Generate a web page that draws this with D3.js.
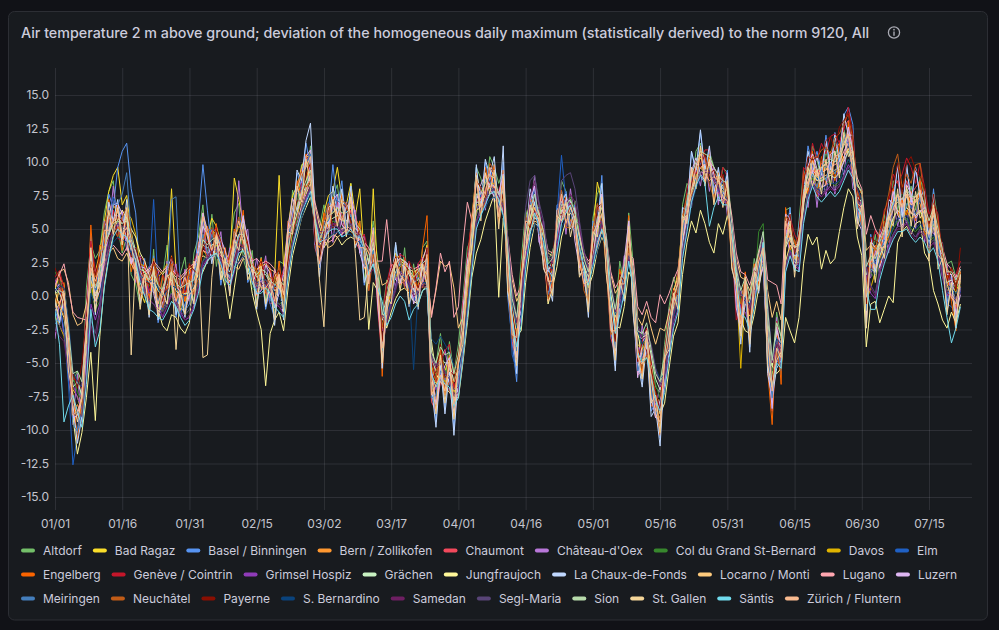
<!DOCTYPE html>
<html>
<head>
<meta charset="utf-8">
<script src="https://cdn.jsdelivr.net/npm/d3@7"></script>
<style>
  html, body { margin: 0; padding: 0; background: #111217; }
  svg { display: block; font-family: Inter, "Noto Sans", sans-serif; }
</style>
</head>
<body>
<div id="chart"></div>
<script>
// stations in legend order
const stations = ["Altdorf", "Bad Ragaz", "Basel / Binningen", "Bern / Zollikofen", "Chaumont", "Château-d'Oex",
  "Col du Grand St-Bernard", "Davos", "Elm", "Engelberg", "Genève / Cointrin", "Grimsel Hospiz", "Grächen",
  "Jungfraujoch", "La Chaux-de-Fonds", "Locarno / Monti", "Lugano", "Luzern", "Meiringen", "Neuchâtel",
  "Payerne", "S. Bernardino", "Samedan", "Segl-Maria", "Sion", "St. Gallen", "Säntis", "Zürich / Fluntern"];
const colors = ["#73BF69", "#FADE2A", "#5794F2", "#FF9830", "#F2495C", "#B877D9", "#37872D", "#E0B400",
  "#1F60C4", "#FA6400", "#C4162A", "#8F3BB8", "#C8F2C2", "#FFF899", "#C0D8FF", "#FFCB7D", "#FFA6B0",
  "#DEB6F2", "#447EBC", "#C15C17", "#890F02", "#0A437C", "#6D1F62", "#584477", "#B7DBAB", "#F4D598",
  "#70DBED", "#F9BA8F"];

const firstDay = new Date(2023, 0, 1);
const xTickLabels = ["01/01", "01/16", "01/31", "02/15", "03/02", "03/17", "04/01", "04/16", "05/01",
  "05/16", "05/31", "06/15", "06/30", "07/15"];
const yTickValues = [-15, -12.5, -10, -7.5, -5, -2.5, 0, 2.5, 5, 7.5, 10, 12.5, 15];

// daily deviation (°C), one value per day from 01/01
const altdorf = [
  -1.8, 1.2, 0.9, -2.2, -6.4, -5.6, -7.9, 0.6, 3.9, 2.8,
  3.4, 6.2, 7.8, 8.6, 5.1, 3.2, 4.4, 1.6, 0.9, -0.8,
  2.6, -1.4, 3.5, -1.6, 1.4, 3.8, 0.6, -1.2, 1.7, 2.9,
  -0.4, 3.2, 4.4, 6.8, 2.6, 6.1, 2.2, 4.4, 0.8, 3.6,
  6.2, 6.9, 2.8, 1.6, 3.4, -0.6, 2.9, -0.4, 2.1, -1.5,
  2.6, 2.4, 3.1, 7.9, 6.4, 9.8, 7.6, 11.2, 6.8, 5.1,
  6.8, 5.2, 7.4, 8.3, 5.4, 4.6, 8.4, 3.9, 5.6, 1.2,
  3.4, 5.6, 2.6, -1.4, 1.2, 0.2, 3.8, 0.6, 3.6, -0.2,
  2.4, 0.4, 3.6, 4.1, -4.6, -5.1, -2.8, -6.4, -3.4, -5.8,
  -3.6, -0.2, 3.6, 4.4, 9.6, 8.8, 7.4, 10.4, 9.6, 8.4,
  9.4, 4.2, -0.6, -1.8, 2.6, 6.4, 5.2, 8.9, 6.8, 2.8,
  2.6, 3.4, 4.4, 8.6, 7.8, 5.2, 7.1, 4.6, 3.4, -0.2,
  5.8, 7.6, 8.4, 2.2, -0.6, -1.4, 2.6, 0.8, 6.2, 2.4,
  -3.2, -2.6, -4.2, -4.6, -6.8, -7.2, -3.6, -0.8, 1.4, 0.2,
  6.8, 8.4, 7.8, 10.8, 11.4, 9, 10.8, 9.6, 7.4, 9.6,
  9.2, 5.4, 1.8, 0.4, -0.6, -0.2, 2.8, 1.2, 4.8, -1.6,
  -5.8, -1.2, -3.2, 6.4, 6.6, 2.4, 5.6, 9.4, 8.2, 11.2,
  10.2, 8.6, 10.9, 9.2, 11.4, 9.6, 12.4, 11.2, 11.6, 8.4,
  7.8, 1.6, 2.4, 4.6, 2.2, 6.1, 4.4, 8.6, 6.4, 7.9,
  6.6, 8.2, 6.4, 8.9, 7.4, 3.6, 7.8, 5.6, 1.6, 2.4,
  2.6, 1.4, 0.4];
const badRagaz = [
  0.5, 1.5, 0.8, -2.5, -7, -7.5, -8.8, -3, 2.2, 1.8,
  3.2, 5.5, 7.8, 9, 9.6, 6.8, 7.5, 4.8, 3.2, 0.4,
  -0.5, 1.2, 2.8, 1.5, -0.2, 2.5, 8, 1.8, -1.2, 1,
  1.8, 0.5, 3.6, 6.2, 4.5, 5.8, 5.2, 4, 3.3, 2.6,
  8.8, 7.2, 5.4, 4.2, 2.6, 0.6, 2.8, 0.4, -0.2, 1.5,
  9, 2.2, 5.2, 7.5, 8.2, 9.6, 10.5, 10.2, 5.6, 4.4,
  6.2, 7.5, 7.8, 9.6, 7.2, 6.8, 8.4, 6, 8, 2.8,
  0.8, 8, 1.5, -2.5, -0.2, 1.5, 3.2, 2.8, 2.5, 0.4,
  1.5, 2.2, 2.6, 3.8, -6, -6.5, -4.2, -5.6, -4.5, -7.2,
  -5.2, -1.8, 2.5, 5.8, 9.2, 7.6, 8.8, 9.6, 8, 5.8,
  8.5, 2.6, -1.8, -3, 1.4, 5.6, 7, 7.6, 5.8, 3.2,
  0.2, 2.2, 5.8, 7.8, 6.4, 6.8, 4.8, 2.6, 1.2, 0.8,
  4.8, 8.5, 7, 4.2, -1.6, -2.8, 1.2, 2.4, 4.8, 1.6,
  -4.2, -4, -2.8, -5.6, -7.8, -8.2, -4.5, -1.6, 0.2, 1.8,
  5.5, 7.2, 8.8, 9.6, 10.3, 9.8, 9.5, 8.4, 8.8, 8.2,
  7.8, 4.2, 0.8, -1.2, 1.5, -1.5, 1.8, 2.2, 3.5, -3,
  -6.5, -2.6, -4.5, 5.4, 5.2, 3.2, 4.5, 8.4, 9, 9.8,
  8.8, 9.2, 9.5, 9.6, 10, 10.5, 11.4, 12, 10.6, 7,
  6.5, 0.2, 3.5, 2.8, 3.2, 4.6, 5.2, 7, 7.2, 6.2,
  7.5, 6.8, 7.2, 7.5, 5.8, 4.5, 6.4, 4, 2.6, 1.2,
  1, 0.2, 1.5];
const basel = [
  -1, -2.2, 0, -6.2, -8.8, -10.2, -6.6, -2.2, 4.6, 0,
  3.4, 3.4, 7.6, 6.6, 9.6, 10.8, 11.4, 8, 6.2, 1.4,
  2.8, -0.8, 3, -2, -0.6, -0.8, 2.8, -1.6, 0, -0.8,
  2, 0.2, 5.6, 9.8, 6.4, 3.4, 4.4, 0.8, 2.6, 1,
  4.4, 3.4, 5.4, 1, 1.8, -0.8, 2, -1, 0.6, -1.6,
  1.8, -1, 5.6, 5.4, 9.2, 8.2, 11.4, 9.6, 6.6, 2.2,
  5.6, 6.2, 9.8, 6.6, 8.6, 5, 8.2, 4, 5, 0.8,
  2.6, 3.4, 1, -5.4, -0.2, 0.6, 3.8, 1.4, 2.4, 0.4,
  1.4, -0.6, 2.4, 0.6, -6.2, -9.4, -5, -8.4, -5.4, -10,
  -5.4, -3.8, 3, 4.2, 9.6, 6.4, 10, 8.6, 9.8, 5.8,
  10, 0, -3.4, -6.4, 0.8, 4, 7.6, 6.4, 6.6, 3.2,
  1.4, 0.2, 6.8, 6.8, 7.8, 5, 6.8, 2.2, 2.6, -1,
  5.6, 5, 9, 2.6, -1.6, -5.2, 1.2, -0.2, 5.8, -1,
  -4.4, -6.4, -3.2, -8.6, -8, -10.6, -4.8, -4, 0.2, -0.6,
  6.6, 6.2, 10.8, 9.2, 12.2, 9.2, 11, 7.6, 9.4, 7.4,
  9.4, 3, 1.6, -2.8, 1.4, -3.8, 1.8, 0.4, 4, -5.4,
  -7, -5, -4.4, 4.4, 6.6, 2, 5.4, 8, 11.2, 9.6,
  10.8, 9.3, 12, 9.4, 12.2, 10.4, 13.5, 14.1, 12.8, 5.8,
  7.4, -2, 4.6, 1.8, 5, 4, 7.2, 7, 9.8, 6,
  9.8, 6.8, 9.5, 7.4, 8, 4, 8, 3.4, 4, -0.6,
  1.6, -1.8, 2];
const bern = [
  -0.9, 0.6, -0.1, -4.6, -8.6, -8.1, -9.1, -2.1, 2.6, -0.4,
  1.1, 4.1, 5.9, 5.1, 4.9, 5.9, 6.1, 2.6, 2.1, 1.9,
  0.6, -0.4, 1.9, 0.9, -0.4, 0.4, 1.9, 1.1, -0.6, -0.1,
  1.4, 1.6, 2.1, 4.6, 3.1, 4.9, 4.6, 2.1, 2.9, 2.6,
  3.1, 4.4, 5.6, 3.6, 0.9, 1.9, 2.4, 0.6, -0.1, 0.9,
  1.6, 1.1, 3.4, 5.4, 7.9, 8.1, 8.6, 10.1, 4.1, 3.6,
  5.1, 5.4, 6.6, 6.1, 6.9, 5.4, 6.1, 5.6, 4.6, 2.4,
  2.1, 3.6, 1.1, -2.6, -1.4, 0.6, 2.6, 2.6, 1.1, 0.6,
  0.1, 1.6, 2.4, 1.9, -6.1, -7.6, -5.6, -6.9, -4.9, -6.9,
  -6.4, -1.4, 2.1, 4.4, 7.4, 7.9, 8.6, 9.4, 7.9, 6.1,
  7.6, 2.6, -1.9, -3.9, 0.1, 5.6, 6.4, 6.6, 5.4, 3.1,
  1.1, 1.1, 4.6, 6.6, 6.6, 5.6, 5.9, 3.4, 1.1, 0.1,
  4.4, 6.6, 6.1, 3.6, -2.6, -3.6, 1.1, 1.9, 4.1, 0.1,
  -5.4, -4.1, -3.9, -6.1, -8.6, -9.1, -5.1, -2.9, -1.1, 0.1,
  5.4, 6.4, 8.9, 9.6, 9.6, 9.1, 9.9, 7.6, 8.4, 8.6,
  7.1, 3.1, 0.4, -1.1, 0.1, -2.4, 1.4, 2.6, 2.6, -3.9,
  -7.1, -3.6, -5.4, 4.6, 5.1, 2.6, 3.9, 8.4, 8.4, 9.1,
  8.1, 9.4, 9.6, 9.1, 10.1, 10.4, 11.4, 12.4, 10.1, 7.1,
  6.4, -0.1, 3.4, 2.1, 3.4, 4.6, 4.6, 7.1, 7.4, 6.4,
  7.6, 6.9, 7.1, 6.9, 5.1, 4.4, 6.4, 3.4, 2.6, 0.9,
  0.9, -0.9, 1.1];
const chaumont = [
  1.1, 1.6, -0.1, -4.1, -9.6, -8.9, -7.1, -2.6, 2.4, 0.1,
  0.9, 3.6, 4.9, 6.4, 5.1, 4.1, 4.6, 3.1, 1.4, 0.6,
  1.1, -0.1, 0.6, -0.9, -1.1, 0.6, 0.9, -0.6, 0.4, 0.1,
  -0.4, 0.4, 2.6, 5.9, 3.1, 3.6, 3.1, 3.6, 1.6, 1.1,
  2.6, 4.6, 4.1, 2.6, 1.1, 0.1, 1.1, 0.4, -0.6, -0.4,
  0.4, 0.1, 3.1, 6.4, 7.9, 9.4, 10.1, 10.6, 3.6, 2.4,
  4.4, 5.9, 6.9, 6.6, 6.1, 5.1, 6.4, 4.1, 3.4, 2.6,
  0.4, 3.9, -0.9, -4.9, -1.1, 0.9, 1.4, 1.1, 0.9, 0.4,
  -0.1, 0.9, 0.9, 2.1, -7.9, -8.6, -6.4, -7.1, -6.9, -8.9,
  -6.9, -2.9, 0.9, 4.9, 8.4, 7.1, 7.9, 9.1, 8.1, 6.4,
  8.4, 1.1, -3.4, -4.9, -0.4, 4.9, 5.9, 7.1, 4.4, 3.1,
  -0.4, 1.1, 4.6, 7.6, 5.9, 5.6, 4.9, 2.6, 0.9, 0.1,
  3.4, 5.9, 6.9, 2.4, -3.1, -4.4, -0.1, 0.9, 3.9, 0.1,
  -5.9, -5.6, -4.1, -7.4, -9.1, -9.4, -6.1, -3.1, -1.1, 0.1,
  4.6, 6.9, 8.6, 9.6, 10.6, 9.9, 9.1, 8.1, 7.6, 8.1,
  7.9, 3.1, -0.4, -2.1, -0.1, -2.9, 0.6, 1.1, 2.4, -4.6,
  -8.6, -4.1, -5.9, 4.9, 4.4, 2.9, 3.6, 8.9, 9.6, 10.6,
  9.1, 9.9, 10.1, 10.6, 10.9, 11.4, 12.6, 13.1, 10.9, 6.4,
  5.6, -1.6, 2.6, 2.4, 3.1, 4.9, 5.6, 8.1, 8.6, 6.9,
  8.6, 7.6, 8.1, 8.6, 6.1, 4.4, 6.1, 4.1, 2.1, 0.1,
  0.1, -1.1, 0.6];
const chateauDOex = [
  -3.2, -0.4, -2.9, -2.6, -9.2, -5.8, -9.6, -1.8, 0.6, 2,
  0.6, 5.6, 4.6, 8.2, 5.2, 6.4, 3.4, 4.4, 1, 3,
  0, 2.2, 0.8, 2, -0.6, 2.6, 0.8, 2.4, -0.6, 2,
  -0.2, 2.6, 1.4, 5.6, 2.4, 5, 3.2, 4.8, 1.6, 3.6,
  3, 8.6, 4.4, 5, 1, 2.8, 1, 3, -0.2, 2,
  0.4, 2, 2, 6.4, 5.2, 8.6, 7, 10.2, 3.8, 4.8,
  3.6, 6.6, 4, 7, 4.4, 7, 5, 6.4, 3.2, 4.6,
  0.8, 4.8, -0.2, -1.8, -1.6, 2.2, 0.6, 3.2, 0.6, 2.6,
  -0.4, 2.4, 0.6, 3.6, -6.6, -5, -5, -4, -6, -5.6,
  -6, -0.4, 0, 5.6, 6, 7.8, 6.4, 9.6, 7, 7.8,
  6.2, 3.8, -2.6, -1.4, -0.4, 5.8, 5.2, 9, 4, 5.6,
  0.2, 3.2, 3.6, 7.6, 4.6, 8, 5.6, 5.4, 1, 2.4,
  2.8, 6.8, 4.8, 4.6, -2, -1, 0, 3, 2.8, 2.6,
  -5, -2.2, -4, -4.2, -8.4, -6.6, -5.8, -1, -1.6, 1.8,
  3.4, 7.4, 6.6, 9.8, 8.2, 10.4, 7.8, 9.6, 6.8, 9,
  6, 5, -0.6, 0.4, -0.4, -0.4, 0.2, 3.4, 2.4, -1.4,
  -7.6, -1.6, -5.4, 5.4, 2.8, 3.8, 1.8, 8.4, 6.6, 9.8,
  6.6, 9.4, 7.4, 10, 7.6, 10.4, 9, 12, 8, 7.6,
  5, 1, 1.4, 3.4, 1.6, 5, 3.2, 7, 5.2, 6.8,
  5.4, 7.2, 5, 8, 4, 5.4, 4.6, 5, 1.4, 2.4,
  -0.2, 1.6, 0.6];
const colGrandStBernard = [
  1.8, 1.2, 0.2, -2.4, -6, -7.2, -7.8, -4, 0.6, -1,
  -0.4, 2.2, 3.6, 4.8, 5.6, 5.2, 4.4, 3.8, 3, 2.2,
  1.6, 0.8, 0.4, -0.4, -1.2, -0.6, 0.4, 0.2, -0.6, -1.4,
  -1, 0, 1, 2.6, 3.4, 3.6, 3.2, 2.2, 1.2, 0.8,
  2, 3.6, 3.4, 2.4, 0.6, 0.2, 0.6, 0.8, 0.2, -0.6,
  -0.6, -0.4, 2.6, 4.6, 5.6, 6.6, 7.4, 8.2, 5.4, 3.8,
  4.4, 5.2, 5.6, 5.4, 5, 5.2, 5.2, 4.6, 4.8, 3.8,
  2.2, 3.4, 1.6, -1.8, -0.8, 0.6, 1.6, 2.6, 2.2, 1.6,
  1, 1.4, 2.2, 2, -4.2, -6, -5, -5.6, -5.6, -6.4,
  -6, -3.4, -0.2, 3, 6.2, 6.8, 7.2, 7.8, 8, 7.2,
  6.6, 3.6, -0.8, -2.6, -0.6, 3.4, 5.4, 6.6, 5.6, 4.6,
  2.6, 2.2, 4, 5.8, 6.6, 7.4, 6.2, 4.4, 2.8, 1.8,
  3, 4.6, 5.6, 4, 0.2, -1.6, -0.2, 1.2, 3.4, 1.8,
  -3, -3.8, -3.2, -4.8, -6.6, -7.6, -6, -3.6, -1.4, -0.4,
  3.4, 5.6, 7.6, 8.6, 9.2, 9.6, 9.4, 8.8, 8.2, 7.6,
  7.4, 5.2, 2.2, -0.4, -0.6, -1, 0.4, 4.8, 5.4, -1.6,
  -5.6, -4.2, -4.4, 2.6, 3.8, 2.6, 2.4, 6, 7.6, 8.8,
  8.2, 8, 8.4, 8.6, 8.2, 8.6, 9.4, 10.2, 9.6, 7.8,
  7.2, 1.6, 1.8, 1.2, 2.6, 3.2, 4.2, 5, 5.6, 5.6,
  5.8, 5, 4.8, 5.2, 4.8, 4, 4.4, 3.4, 2, 0.6,
  0.8, 0.6, 1];
const davos = [
  -1.5, -2.2, -3, -5.2, -9.4, -8.8, -9.6, -4.2, 1.2, -1,
  0.6, 3.2, 5, 6.8, 6.2, 5.6, 6.2, 5.8, 4.6, 2.4,
  2.2, 1, 0.6, 1.4, 1.8, 2.4, 1.2, 0.6, 0.2, -0.4,
  0.2, 0.6, 1.6, 3.4, 3, 3.2, 3.8, 3.2, 2.6, 2.8,
  4.2, 5.2, 4.8, 3.6, 2.4, 1.8, 1.6, 1.2, 0.8, 0.6,
  0.8, -0.4, 2.8, 4.8, 6, 7.2, 8, 8.6, 5.8, 4.2,
  5, 5.8, 6.2, 6.6, 5.8, 5.4, 6.8, 5.8, 5.2, 3.8,
  2.4, 3.2, 1.8, -1.8, -1.2, 0.4, 1.4, 2.2, 2.4, 1.8,
  1, 0.8, 1.6, 1.8, -5.2, -6.4, -5.8, -6.4, -6, -7,
  -6.4, -3.2, 0.4, 3.6, 6.8, 6.8, 7.6, 8.4, 8.4, 7.4,
  7.2, 3.2, -1, -2.6, -0.4, 4, 5.6, 7, 5.8, 4.6,
  2, 2.4, 4.6, 6.4, 6.6, 6.8, 5.4, 3.8, 2.4, 1.6,
  3.2, 5.2, 6.2, 3.8, -0.8, -2.4, 0, 1.4, 3.8, 1.2,
  -3.6, -4, -3.4, -5.6, -7.4, -8, -5.8, -3.2, -1.2, 0,
  4, 6, 8, 9, 9.6, 9.6, 9.2, 8.4, 8.2, 7.8,
  7.6, 4.6, 1, -5.4, 0.4, -2.4, 0.8, 2.2, 3.4, -3.2,
  -7, -3.4, -4.8, 4.4, 4.4, 2.8, 3, 7.4, 8.2, 9,
  8, 8.6, 8.8, 9, 9.2, 9.4, 10.4, 11, 9.6, 6.8,
  6.6, -0.4, 0.6, 1.8, 2.6, 3.6, 4.4, 5.8, 6.4, 5.4,
  6.4, 5.8, 6, 6.4, 5, 3.8, 5.4, 3.4, 2, 0.4,
  0.6, -0.4, 0.8];
const elm = [
  -1, -0.6, -2.5, -6.5, -12.6, -10.4, -9, -3.6, 2.8, 0.2,
  1.4, 4.6, 6.2, 7.4, 6.6, 5.4, 6.6, 3.6, 2, 0.2,
  0.6, 1.4, 7.2, 0.8, -1, 0.6, 2.6, 0.2, -1.6, 0.6,
  1.6, 2, 3.4, 5.6, 4.6, 5, 4.8, 3.8, 2.8, 2.2,
  4, 5.8, 5.2, 3.2, 1.2, 0.6, 1.4, 0.8, -0.6, -1.6,
  0.4, -0.6, 4.2, 6.4, 7.8, 9.2, 9.8, 10.4, 4.4, 2.2,
  5.6, 7, 6.8, 7.2, 6.6, 6.2, 7.4, 5.4, 4, 2.2,
  0.8, 4.6, 0.2, -3.8, -1, 1.4, 2.4, 2.4, 1.6, 0.8,
  -0.4, 0.4, 1.4, 2.8, -6.6, -7.6, -5.6, -6.8, -6.2, -8.4,
  -6.6, -2.4, 1.6, 5.4, 8.4, 7.4, 8.6, 9.6, 8.4, 6.2,
  8.2, 1.4, -4.4, -5.6, 0, 5.4, 6.8, 8, 5.2, 3.8,
  0.4, 1.6, 6, 10.5, 7, 6.2, 5.4, 3.2, 1.2, 0,
  4, 6.4, 6.8, 2.6, -2.8, -4, 0.2, 1.4, 4.4, 0.2,
  -5.4, -5, -4, -7, -9, -9.6, -6.2, -3, -1, 0.4,
  5.4, 7.2, 9, 10.2, 10.8, 9.8, 9.6, 8.2, 7.8, 8.2,
  7.6, 3.2, -0.6, -2.4, 0, -2.6, 0.8, 1.8, 3, -4,
  -8.4, -3.8, -5.6, 5.2, 4.8, 3, 3.6, 8.2, 9, 9.8,
  8.6, 9.4, 9.6, 9.8, 10, 10.6, 11.6, 12.4, 10.2, 6.6,
  6, -1, 3.2, 2.4, 3, 4.2, 5.4, 6.8, 7.2, 6.2,
  7.4, 6.6, 7, 7.4, 5.6, 4.2, 6, 3.6, 1.8, -0.6,
  -0.8, -1.4, 0.4];
const engelberg = [
  0.4, -0.8, 1, -5.4, -7.4, -10.8, -7.4, -2.8, 5.3, 0.4,
  3.8, 3.6, 7.2, 5.4, 6.8, 3.4, 6.2, 1.8, 3, -0.4,
  2.4, -0.4, 2.8, -0.6, 1.6, 0.4, 3, -0.4, 1.6, -0.4,
  2.4, 0.2, 4, 4, 5.2, 3.2, 5.4, 2, 3.6, 1,
  5, 4.2, 6.4, 2, 2.8, 0, 2.8, 0.2, 2, -0.6,
  2.6, -0.2, 5.6, 5, 8.6, 7.4, 10.6, 8.6, 6, 2,
  6.2, 5, 7.4, 5.6, 7.6, 4.8, 7.8, 3.8, 5.6, 2,
  2.8, 3.2, 1.6, -6, 0, -0.6, 3, 0.8, 2.8, -0.2,
  1.8, 0.2, 3.6, 6, -5.2, -8.4, -4, -7.4, -4.4, -9,
  -4.4, -3, 2.8, 3.8, 9.2, 6.2, 9.6, 8, 9.8, 5.6,
  9.4, 1, -1, -4.6, 1.8, 4, 7.4, 6.4, 6.4, 2.6,
  2, 0.6, 6.4, 6, 7.4, 5, 6.6, 1.8, 2.8, -0.6,
  5.2, 4.8, 7.6, 1.8, -0.8, -4.4, 2, 0.4, 6, -0.6,
  -3.8, -5.8, -2.4, -8.2, -8.2, -10.4, -4.6, -3.8, 0.6, -0.6,
  6.2, 5.4, 9.6, 8, 11.2, 8.4, 10.6, 7, 9.2, 6.8,
  8.6, 2.2, 1, -2.6, 1.8, -3.2, 2.4, 0.8, 4.4, -5.6,
  -9.6, -2.2, -6.6, 6.6, 3.4, 4.2, 2.4, 9.2, 7.6, 10.8,
  7.4, 10.4, 8.2, 10.8, 8.6, 11.4, 10, 13, 8.6, 7.8,
  5, 0.6, 2, 3.8, 2, 5.6, 4, 8, 6, 7.2,
  6, 7.8, 5.6, 8.6, 4.4, 5.6, 5, 5, 1.4, 1.6,
  -0.4, -2.6, 1.8];
const geneve = [
  1.4, 1.9, 0.6, -2.1, -6.2, -6.3, -6.9, -0.6, 4.1, 1.9,
  1.1, 3.4, 5.9, 6.4, 4.3, 4.1, 6.4, 4.6, 2.1, 2.9,
  2.6, 0.4, 1.3, 1.9, 1.6, 0.3, 1.1, 1.9, 1.4, 0.2,
  1.1, 2.6, 3.4, 3.9, 2.9, 4.8, 5.1, 2.6, 1.9, 3.1,
  4.4, 3.9, 3.6, 4.1, 2.6, 0.9, 1.4, 2.6, 2.1, 0.4,
  0.9, 1.9, 4.4, 4.6, 6.1, 8.4, 8.1, 8.6, 6.1, 4.4,
  3.9, 4.9, 6.6, 7.1, 5.4, 5.1, 7.4, 6.1, 4.1, 4.6,
  3.1, 3.1, 0.6, -1.6, 0.9, 2.4, 1.6, 3.1, 2.9, 1.1,
  0.6, 2.4, 2.9, 2.1, -4.6, -6.4, -4.9, -4.1, -3.6, -6.9,
  -5.4, -0.6, 2.9, 5.9, 7.1, 7.1, 9.1, 8.4, 7.9, 7.9,
  8.9, 3.6, -0.6, -2.1, 0.1, 4.4, 6.4, 7.6, 4.6, 4.9,
  2.1, 1.9, 4.4, 7.4, 6.6, 5.4, 5.1, 4.4, 1.9, 1.9,
  4.9, 5.1, 5.6, 4.4, -0.4, -1.9, 0.4, 2.6, 4.1, 1.9,
  -5.1, -3.4, -2.4, -4.9, -7.9, -8.1, -4.1, -1.4, -0.9, 1.6,
  4.6, 7.9, 9.6, 9.1, 9.9, 10.9, 10.9, 8.6, 8.1, 9.6,
  8.9, 4.1, -1.8, -1.1, 1.1, -1.1, 0.9, 3.4, 3.1, -2.6,
  -7.6, -1.9, -5.1, 4.9, 5.9, 4.6, 3.9, 9.6, 9.1, 11.4,
  10.1, 11.4, 10.6, 11.9, 12.1, 11.4, 12.4, 14.1, 11.9, 8.1,
  6.4, 1.1, 3.6, 4.9, 4.1, 6.4, 7.1, 9.1, 8.4, 9.1,
  10.3, 9.6, 8.4, 9.9, 8.1, 6.1, 6.9, 6.1, 2.6, 2.1,
  0.9, 1.6, 2.6];
const grimsel = [
  1.2, 0.4, -1, -3.4, -6.6, -7.6, -8.4, -5, -0.6, -1.8,
  -0.6, 2.6, 4.4, 5.8, 6, 5.6, 5, 4.2, 3.2, 2,
  1.4, 0.2, 0.6, -0.6, -1.6, -0.8, 0.2, -0.4, -1.2, -1.8,
  -1.6, -0.8, 0.6, 2.2, 2.8, 3.2, 3.4, 2.4, 1.2, 0.6,
  1.8, 3.4, 3.6, 2.6, 1, 0.2, 0.4, 0.8, 0.4, -0.6,
  -0.8, -1.2, 1.8, 4, 5.2, 6.4, 7.2, 8, 5.6, 3.8,
  4.2, 5, 5.4, 5.2, 4.6, 4.8, 5, 4.4, 4.4, 3.4,
  1.6, 2.8, 0.8, -2.6, -2, -0.4, 0.8, 1.8, 1.6, 0.8,
  0.2, 0.4, 1.2, 1.4, -5.6, -7, -5.8, -6.2, -6.4, -7.8,
  -7, -4, -0.8, 2.4, 5.6, 6.2, 7, 7.6, 7.8, 6.8,
  6.4, 3, -1.6, -3.4, -1.6, 2.8, 5, 6.4, 5.4, 4.2,
  2, 1.6, 3.6, 5.6, 6.4, 7, 5.8, 3.8, 2.2, 1,
  2.6, 4.4, 5.4, 3.6, -0.4, -2.6, -1, 0.6, 3, 1,
  -3.8, -4.6, -4, -5.6, -7.4, -8.2, -6.8, -4.2, -2, -1,
  3, 5, 7.2, 8.4, 9.2, 9.4, 9.2, 8.6, 7.8, 7,
  7, 4.8, 1.6, -1, -1.2, -2.2, -0.4, 2.2, 4.4, -2.2,
  -6.4, -4.8, -5, 2.2, 3.4, 2.2, 2, 5.8, 7.4, 8.6,
  7.8, 7.4, 7.8, 8.2, 7.8, 8.2, 9, 9.8, 9.2, 7.2,
  6.6, 1.2, 0.2, -0.2, 1.8, 2.8, 3.8, 4.6, 5.2, 5.2,
  5.4, 4.8, 4.4, 4.8, 4.4, 3.6, 4, 3, 1.4, 0,
  0.2, -0.2, 0.4];
const grachen = [
  0.6, 0.2, -0.6, -3, -6.8, -6.4, -7.4, -3.4, 1.4, 0,
  1, 3.4, 4.6, 5.6, 5.8, 5.4, 5.6, 4.4, 3.4, 2.2,
  1.8, 1, 1.2, 0.4, 0, 0.8, 1.2, 0.4, 0, 0.2,
  0.2, 0.6, 1.8, 3.8, 3.6, 3.8, 4, 3.2, 2.2, 1.8,
  3, 4.2, 4.2, 3.2, 2, 1.4, 1.6, 1.6, 1, 0.4,
  0.6, 0.2, 3, 5, 6.2, 7.4, 8.2, 9, 5.6, 4,
  4.8, 5.6, 5.8, 6, 5.6, 5.6, 6, 5, 4.8, 3.8,
  2.4, 3.6, 1.6, -1.8, -0.6, 1, 1.8, 2.4, 2.2, 1.6,
  1, 1.2, 2, 2.2, -4.6, -5.6, -4.6, -5, -5, -6.4,
  -5.4, -2.6, 0.6, 4, 7, 7, 7.6, 8.4, 8.2, 7,
  7.2, 3.2, -0.8, -2.2, 0, 4, 5.8, 7, 5.6, 4.4,
  2, 2.2, 4.4, 6.4, 6.4, 6.8, 5.8, 4, 2.4, 1.4,
  3.4, 5.2, 6, 3.8, 0, -1.6, 0.4, 1.6, 3.8, 1.6,
  -3, -3.2, -2.6, -4.4, -6.2, -7, -5, -2.6, -0.8, 0.2,
  4, 5.8, 7.8, 8.8, 9.6, 9.8, 9.8, 9.2, 8.6, 8,
  7.8, 5, 1.8, 0, 0.8, -0.6, 1, 3, 4.4, -1.6,
  -5.2, -2.6, -3.6, 3.6, 4.4, 3, 3, 7, 8.2, 9.2,
  8.6, 8.6, 8.8, 9, 8.8, 9.2, 10, 10.8, 9.8, 7.4,
  7, 1.6, 2, 1.8, 3, 3.8, 4.8, 5.8, 6.4, 6,
  6.6, 6.2, 6, 6.4, 5.6, 4.6, 5.4, 4, 2.4, 1,
  1.2, 0.6, 1.4];
const jungfraujoch = [
  0.4, -0.8, -1.6, -4, -9, -11.8, -10.2, -7.6, -4.2, -9.3,
  -3, 0.8, 3, 4.6, 5.8, 6.4, 5.8, 5, 4.4, 3.2,
  2.6, 1.6, 0.8, -1, -2.2, -2.6, -1.4, -1.6, -2.4, -2.8,
  -2, 2.6, 1.2, 1.8, 2.6, 3, 3.2, 2, 0.6, -1.7,
  0.6, 2.8, 3.6, 2.4, 0.2, -1.2, -2.5, -6.7, -2.8, -1.8,
  -1.2, -2.6, 0.6, 3, 4.4, 5.8, 6.6, 7.4, 5.4, 4,
  3.6, 4.2, 4.6, 4.4, 3.8, 4.2, 4.4, 4.2, 4.4, 3.6,
  -2.5, 1, 0.4, -1.2, -2.4, -1.2, -0.2, 0.4, 0.6, 0.2,
  -0.4, -0.6, 0.4, 0.8, -3.4, -5.8, -6.4, -6.8, -7.2, -7.6,
  -7.6, -5, -2, 1.4, 3.2, 4.2, 5.6, 6.6, 7.6, -0.1,
  5.8, 3.2, -0.8, -3, -2.6, 1, 3.6, 5.4, 5.2, 4.2,
  -0.6, 0.6, 2.2, 4.4, 5.6, 6.2, 5.8, 4.4, 2.4, 0.6,
  1.6, 3.4, 4.4, 3.6, 0.4, -2.2, -2.4, -0.8, 1.8, 1.2,
  -2.6, -4.8, -4.6, -5.2, -7.4, -8.8, -8, -5.4, -3, -2,
  1.6, 4, 5.6, 4.7, 6.4, 5.4, 4, 3.2, 5.4, 4.6,
  6, 4.4, 1.6, -1.8, -2.6, -2.8, -1.4, 0.6, 2.4, -0.8,
  -5.2, -5.8, -5.4, -1.6, -2.6, -3.5, -1.6, 2.4, 4.6, 3.8,
  4.4, 2, 3.4, 2.4, 2.8, 4.8, 6.6, 8, 7.4, 4.4,
  3, -3.8, -0.6, -0.4, -2, -1, 0, -0.5, 4, 4.8,
  5.2, 4.6, 5.4, 5.6, 3.2, 2.6, 0.4, -0.6, -1.8, -2.4,
  -1.2, -2, -0.6];
const chauxDeFonds = [
  -0.4, -2, -0.2, -5.8, -8.2, -11, -9, -3.8, 3.2, -1.4,
  2.4, 2.8, 7, 5.6, 7.2, 4.2, 7.2, 2.4, 3.6, -0.6,
  1.6, -1.6, 2.2, -1.8, 0, -0.6, 2.4, -1.4, 0.2, -1.6,
  1, -0.8, 3.2, 5.2, 4.6, 2.4, 4.8, 1.2, 2.6, 0.2,
  4.8, 4.2, 6, 1.6, 2, -1, 2, -0.8, 0.8, -2.2,
  1.4, -1.8, 5, 5.4, 9.4, 8.6, 11.6, 12.9, 6.2, 1.4,
  5.6, 5.4, 8.2, 6, 8, 5, 8.2, 3.6, 4.6, 1,
  2, 2.8, 1.2, -5.4, -0.4, 0.4, 4, 1, 2.2, -0.8,
  0.6, -1, 2.2, 1, -6.8, -9.8, -5.2, -8.8, -5.6, -10.4,
  -6, -4.4, 2.4, 4.2, 9.8, 6.4, 10.2, 9, 10.4, 6.2,
  11.2, 0.4, -2.2, -5.8, 1, 4.2, 8, 6.8, 6.2, 2.2,
  1, -0.4, 6.4, 7, 7.6, 5, 6.6, 1.6, 1.8, -1.6,
  5.2, 5.2, 8.4, 1.8, -1.8, -5.6, 0.8, -0.4, 5.6, -1.4,
  -4.8, -6.8, -3.4, -9, -8.4, -11.2, -5.4, -4.4, 0, -1,
  6.6, 6.4, 10.8, 9.4, 12.4, 9.4, 11.2, 7.6, 9.6, 7.2,
  9.2, 2.2, 0.6, -3.6, 0.8, -4.2, 1.6, 0.2, 4, -5.8,
  -7.6, -5.4, -4.8, 4, 6.2, 1.8, 5, 7.6, 10.8, 9.2,
  10.4, 9, 11.6, 9.4, 12, 10, 13.6, 12, 12, 5.4,
  7.2, -2.4, 4.2, 1.6, 4.6, 3.8, 7.2, 6.8, 9.8, 5.8,
  9.8, 7, 9.6, 7.4, 7.8, 3.6, 7.6, 3, 3.6, -1.2,
  1, -2.4, 1.6];
const locarno = [
  0.6, 1.8, 2, 1, -1.4, -2.2, -2, -0.6, 1.2, 0.2,
  0.8, 2.2, 3.2, 3.6, 2.8, 2.6, 3.2, 2.4, 1.8, 1.4,
  1.6, 1.8, 2.4, 2, 1.6, 2, 1.8, 1.4, 1.2, 1.6,
  2, 2.2, 2.6, 3, 2.8, 3, 3.2, 2.8, 2.4, 2.4,
  2.2, 2, 2.8, 2.6, 2.2, 2, 2.2, 2.4, 2, 1.8,
  0.6, 0.2, 2, 3.6, 4.8, 6.4, 7.6, 8.4, 6.6, 5.2,
  4.2, 3.6, 3.8, 4.4, 4.6, 5, 4.8, 4.6, 4.2, 3.8,
  3.2, 2.6, 2.4, 0.8, 1, 1.6, 2.2, 2.6, 2.4, 2,
  1.8, 2, 2.2, 1.6, -1.4, 0.4, 2.6, 2.2, 2.4, 0.6,
  -2.4, -1.6, 0.8, 3.8, 6.4, 6.6, 7.2, 7.6, 7.8, 7,
  6.2, 4, 1.2, -0.4, 0.4, 3.4, 4.8, 5.6, 5.4, 4.8,
  3.2, 3, 4.4, 5.6, 6.2, 6.4, 5.6, 4.4, 3, 2.4,
  2.8, 3.6, 4.8, 4.2, 1.6, 0.2, 0.8, 1.8, 3, 2.4,
  -1.6, -2.2, -1, -2.4, -3.6, -2.4, -2.6, -1.2, 0.4, 1.4,
  4.2, 6, 7.6, 8.4, 9.2, 9.4, 9.6, 9.2, 8.6, 8.2,
  7.8, 5.6, 2.8, 1.4, 1.2, 0.4, 1.6, 2.8, 4, 0.4,
  -1.6, -0.4, -1.8, 2.6, 3.8, 3.2, 3.4, 7, 8.2, 9,
  8.6, 8.8, 9, 9.2, 9.4, 9.6, 10.4, 11, 10.2, 8.4,
  7.6, 3.4, 3.8, 3.4, 4, 4.8, 5.6, 6.6, 7, 6.8,
  7.4, 6.8, 7, 7.4, 6.2, 5.2, 6, 4.6, 3.2, 2,
  1.6, 1, 1.8];
const lugano = [
  0.8, 1.6, 2.4, 0.6, -1.2, -1.6, -1.7, -1.8, 0.6, 0.8,
  1.2, 2.4, 3.4, 3.8, 3.4, 3, 3.6, 2.8, 2, 1.6,
  1.8, 2, 2.6, 2.2, 1.8, 2.2, 2, 1.6, 1.4, 1.8,
  2.2, 2.4, 2.8, 3.4, 3.2, 3.4, 3.4, 3, 2.6, 2.6,
  2.6, 2.4, 3, 2.8, 2.6, 2.8, 2.4, 2.6, 2.4, 2,
  1, 0.6, 2.4, 3.8, 5.2, 6.8, 8, 8.8, 7, 5.6,
  4.6, 4, 4.2, 4.8, 5, 5.2, 5, 4.8, 4.4, 4,
  3.6, 2.8, 2.6, 2.6, 5.7, 2.2, 2.6, 2.8, 2.6, 2.2,
  2, 2.2, 2.4, 1.8, -1.6, 0.6, 3.2, 1.8, 2.6, -1.6,
  -0.8, 3.8, 7, 5.6, 7.4, 7.2, 7.8, 8.2, 8.2, 7.4,
  6.4, 4.4, 1.6, 0, 0.8, 3.6, 5, 5.8, 5.6, 5,
  3.4, 3.2, 4.6, 5.8, 6.4, 6.6, 5.8, 4.6, 3.2, 2.6,
  3, 3.8, 5, 4.4, 1.8, 0.6, 1.2, 2, 3.2, 2.8,
  -0.8, -1.4, -0.4, -1.6, -2, 0.1, -0.6, 0.2, 1.2, 2,
  4.6, 6.4, 8, 8.8, 9.6, 9.8, 10, 9.6, 9, 8.6,
  8.2, 6, 3.2, 1.8, 1.6, 0.8, 2, 3.2, 4.4, 1.2,
  1, 0.8, -0.6, 6, 4.6, 3.6, 3.8, 7.4, 8.6, 9.4,
  9, 9.2, 9.4, 9.6, 9.8, 10, 10.8, 11.4, 10.6, 8.8,
  8, 4.6, 6, 5, 4.4, 5.2, 6, 7, 7.4, 7.2,
  7.8, 7.2, 7.4, 7.8, 6.6, 5.6, 6.4, 5, 3.6, 2.4,
  2, 1.4, 2.2];
const luzern = [
  0.3, 0.9, -0.2, -4.6, -9.1, -8.9, -7.5, -1.2, 3.4, -0.4,
  0.4, 3.1, 4.6, 6.8, 6.9, 6.1, 4.2, 2.4, 3.3, 2.2,
  2.1, 1.6, 0.2, -1.3, -0.6, 2.1, 2.8, 1.9, -0.9, -1.2,
  0.1, 1.9, 3.6, 6.2, 4.9, 2.8, 3.1, 4.2, 3.4, 1.1,
  2.6, 4.1, 5.9, 4.2, 2.6, 0.1, 0.4, 2.3, 1.7, -0.9,
  0.2, 1.6, 5.1, 7.3, 6.4, 7.6, 10.4, 10.9, 5.9, 2.1,
  3.8, 5.2, 7.1, 7.6, 5.3, 4.9, 7.4, 6.1, 3.2, 2.1,
  2.4, 5.1, -0.6, -4.1, 0.4, 2.1, 1.2, 0.9, 2.6, 2.3,
  -0.6, 0.1, 2.8, 3.6, -5.6, -8.1, -6.1, -5.2, -4.6, -8.6,
  -6.6, -1.1, 2.6, 4.1, 7.1, 8.3, 9.1, 8.1, 7.4, 7.6,
  9.1, 3.2, -1.4, -4.6, -0.6, 4.1, 7.1, 8.2, 4.1, 2.6,
  1.8, 2.6, 4.1, 6.1, 7.2, 7.1, 4.1, 2.1, 2.6, 1.6,
  3.1, 5.1, 7.6, 4.1, -1.1, -4.1, -0.6, 2.6, 5.6, -0.6,
  -6.1, -3.6, -2.6, -7.6, -9.1, -7.8, -6.6, -1.6, 0.2, -0.6,
  3.9, 5.8, 9.3, 10.3, 9.1, 8.6, 10.1, 9.1, 7.1, 7.2,
  8.6, 4.6, -0.9, -2.6, -0.6, -1.1, 2.1, 1.1, 2.1, -4.6,
  -8.4, -2.3, -4.1, 6.1, 5.8, 2.1, 2.6, 7.1, 9.7, 10.6,
  9.5, 8.1, 8.3, 10.6, 10.8, 9.1, 10.1, 12.6, 10.8, 5.6,
  4.9, -1.6, 4.1, 3.6, 2.1, 3.3, 6.1, 7.8, 6.1, 5.1,
  8.3, 7.6, 5.8, 6.3, 6.6, 5.3, 5.1, 2.8, 3.3, 1.6,
  1.6, -1.4, 0.1];
const meiringen = [
  -2.1, -1.6, -0.9, -4.9, -9.6, -10.1, -8.6, -2.9, 1.4, 0.4,
  1.9, 3.6, 5.1, 6.9, 6.8, 7.6, 9.2, 4.6, 2.9, 1.6,
  0.4, -0.6, 0.9, -0.4, 0.6, 0.9, 7.2, 7.4, 0.6, -1.1,
  -0.6, 1.6, 2.9, 4.6, 3.1, 4.6, 3.4, 2.6, 2.9, 1.4,
  3.1, 4.4, 5.4, 2.6, 1.1, 0.4, 1.9, 0.6, -0.4, 0.9,
  0.4, -0.6, 3.4, 5.4, 7.6, 7.9, 9.9, 10.6, 3.9, 2.1,
  5.4, 5.6, 6.4, 7.1, 6.9, 5.1, 6.1, 4.4, 4.6, 2.4,
  1.9, 3.4, 0.9, -4.1, -1.6, 0.1, 1.6, 2.6, 1.4, 0.6,
  0.9, 1.4, 1.1, 2.6, -7.6, -7.4, -5.6, -5.9, -6.1, -8.4,
  -6.1, -2.9, 1.9, 4.4, 7.6, 7.9, 8.6, 8.6, 7.6, 6.9,
  7.9, 1.4, -2.6, -4.1, 1.1, 4.6, 6.6, 7.6, 4.6, 4.4,
  0.1, 1.4, 4.4, 7.9, 6.6, 5.4, 4.9, 3.6, 1.9, -0.1,
  3.9, 6.4, 6.1, 2.6, -1.6, -3.9, 0.1, 1.9, 4.4, 0.4,
  -5.6, -4.4, -3.1, -7.1, -8.9, -8.1, -6.1, -2.1, -1.4, 0.1,
  4.6, 7.1, 8.9, 8.6, 9.9, 9.9, 9.6, 7.6, 7.9, 8.6,
  6.9, 3.1, 0.4, -1.4, -0.1, -2.6, 1.4, 1.6, 2.4, -4.4,
  -7.6, -3.1, -5.6, 4.6, 4.1, 3.4, 2.9, 8.4, 8.1, 9.1,
  8.1, 9.4, 8.6, 9.9, 9.1, 10.4, 11.6, 11.4, 9.6, 6.1,
  5.1, -1.1, 2.4, 2.6, 3.4, 4.1, 4.6, 6.9, 7.4, 5.4,
  6.9, 6.6, 6.1, 7.4, 5.9, 3.6, 5.6, 4.1, 1.6, 0.1,
  0.9, -0.6, 0.6];
const neuchatel = [
  -0.1, -0.8, -1.4, -3.1, -7.4, -8.6, -8.9, -2.7, 2.2, 1.4,
  2.6, 5.3, 6.4, 5.1, 4.4, 5.9, 6.6, 4.6, 1.4, 0.1,
  0.2, 1.6, 2.4, 1.1, -0.9, 0.3, 2.4, -0.4, -0.9, 1.4,
  1.6, 0.1, 1.4, 4.1, 4.8, 5.1, 3.1, 2.1, 1.3, 2.9,
  4.6, 5.9, 3.6, 2.1, 2.4, 1.9, 0.6, 0.3, 1.4, 1.1,
  2.1, -0.4, 2.9, 5.1, 8.1, 9.3, 8.1, 8.6, 5.6, 3.9,
  5.6, 6.9, 5.1, 5.4, 7.1, 6.9, 5.4, 3.9, 5.1, 3.9,
  0.4, 3.1, 1.4, -2.3, -1.6, 0.1, 2.9, 2.9, 0.6, 0.3,
  1.4, 1.9, 0.6, 1.4, -7.4, -6.1, -4.1, -7.1, -6.4, -6.4,
  -4.8, -2.9, 0.4, 5.9, 8.9, 6.1, 7.1, 9.9, 9.3, 5.4,
  7.1, 1.1, -3.2, -2.4, 1.4, 5.9, 5.1, 6.1, 5.9, 4.6,
  -0.2, 0.6, 5.9, 7.9, 5.1, 5.1, 6.1, 3.9, 0.4, -0.4,
  4.9, 6.9, 5.4, 2.1, -2.9, -2.3, 1.4, 0.4, 3.6, 1.4,
  -3.9, -5.4, -4.4, -5.6, -7.4, -9.6, -4.6, -3.4, -1.6, 1.4,
  5.9, 7.6, 7.5, 8.3, 10.9, 10.4, 8.3, 7.3, 8.9, 8.9,
  6.6, 2.6, 0.9, -0.6, 1.4, -2.9, 0.1, 2.9, 3.9, -2.6,
  -6.6, -4.1, -5.9, 5.9, 5.6, 3.9, 4.4, 8.9, 9.5, 10.4,
  10.3, 10.9, 11.1, 10.6, 11.8, 12.1, 12.9, 13.6, 11.6, 7.4,
  7.9, 0.2, 3.9, 3.4, 4.9, 6.1, 7.6, 9.6, 10.6, 8.1,
  9.1, 8.4, 9.8, 9.9, 7.1, 5.1, 6.9, 5.6, 3.1, 1.1,
  2.1, 0.6, 1.9];
const payerne = [
  2.1, 1.1, -0.6, -2.4, -5.6, -6.9, -5.1, -1.6, 2.6, 1.6,
  2.9, 3.6, 4.4, 4.9, 5.9, 5.6, 4.6, 2.9, 3.6, 2.4,
  1.1, 0.9, 2.6, 1.6, -0.4, 1.1, 2.9, 1.9, 0.1, 0.9,
  2.4, 1.9, 1.6, 3.6, 4.1, 3.1, 4.9, 4.1, 2.1, 1.6,
  2.6, 4.1, 5.1, 3.9, 1.1, 2.1, 2.6, 0.9, 0.4, 1.6,
  1.9, 0.4, 2.6, 5.6, 7.1, 7.1, 9.1, 9.9, 4.1, 2.6,
  4.9, 6.4, 5.1, 5.6, 6.9, 6.6, 5.6, 4.1, 4.9, 4.1,
  1.4, 4.6, 1.9, -3.4, 0.6, 1.9, 2.9, 1.6, 1.1, 2.6,
  1.9, 0.6, 1.6, 3.6, -6.4, -5.6, -3.6, -6.1, -5.6, -5.9,
  -4.1, -2.1, 1.4, 5.4, 8.6, 8.1, 7.4, 9.6, 9.1, 6.1,
  7.6, 1.9, -1.1, -3.4, 1.6, 5.6, 5.1, 6.4, 5.9, 3.1,
  0.4, 2.9, 5.9, 6.1, 5.4, 6.9, 5.9, 2.6, 2.6, 1.6,
  3.4, 6.6, 6.9, 2.4, -0.6, -3.4, 1.6, 1.1, 4.1, 1.9,
  -4.9, -3.4, -4.1, -5.4, -7.1, -8.6, -5.6, -1.6, 0.4, 0.1,
  5.9, 6.1, 8.1, 10.1, 9.6, 10.6, 9.1, 9.4, 8.1, 9.1,
  7.4, 4.4, 0.6, -2.1, 1.4, -1.4, 1.9, 1.6, 4.1, -2.9,
  -6.6, -3.6, -3.9, 5.1, 6.1, 3.1, 4.9, 8.4, 10.4, 10.1,
  10.4, 10.1, 11.6, 11.9, 10.9, 12.6, 13.1, 13.6, 12.1, 6.9,
  7.6, -0.6, 4.4, 4.1, 3.9, 5.1, 7.4, 8.1, 9.9, 7.6,
  9.9, 10.4, 9.4, 8.9, 8.1, 5.4, 7.6, 4.9, 3.9, 1.1,
  2.1, 0.4, 3.6];
const sanBernardino = [
  0.4, 0.8, 0.6, -1.8, -5.6, -6.4, -6.8, -3.6, 0.2, -0.6,
  0, 1.8, 3, 4, 4.4, 4.2, 4, 3.2, 2.4, 1.6,
  1.2, 1, 1.2, 0.6, 0, 0.4, 0.8, 0.6, 0.2, 0,
  0.2, 0.8, 1.4, 2.6, 2.8, 3, 3, 2.4, 1.8, 1.6,
  2, 2.6, 3, 2.4, 1.4, 1, 1.2, 1.2, 0.8, 0.2,
  -0.2, -0.6, 1.6, 3.4, 4.6, 5.8, 6.8, 7.6, 5.8, 4.4,
  4.2, 4.4, 4.6, 4.8, 4.4, 4.6, 4.6, 4.2, 4, 3.4,
  2, 2.2, 1.2, -1.2, -1.4, -0.2, 0.6, 1.6, 1.4, 0.8,
  -5.5, 0.4, 1, 1, -3.2, -3.6, -3, -3.6, -4.2, -5.2,
  -5.6, -3.6, -0.8, 2.4, 5.2, 6, 6.6, 7.2, 7.4, 6.8,
  6, 3.6, -0.4, -2.4, -1.4, 2.2, 4.2, 5.4, 5, 4.2,
  2.4, 2, 3.4, 5, 5.8, 6.4, 5.6, 4, 2.6, 1.6,
  2.2, 3.4, 4.6, 3.6, 0.6, -1.4, -0.8, 0.6, 2.4, 1.6,
  -2.6, -3.6, -3, -3.8, -5.4, -6.2, -5.8, -3.6, -1.6, -0.6,
  2.8, 4.8, 6.8, 8, 8.8, 9.2, 9.2, 8.8, 8.2, 7.6,
  7.2, 5.2, 2.2, 0.2, -0.2, -0.6, 0.4, 2.2, 3.8, -0.6,
  -4.6, -3.2, -3.6, 1.8, 3, 2.4, 2.2, 5.6, 7.2, 8.4,
  8, 7.8, 8.2, 8.4, 8.4, 8.6, 9.4, 10.2, 9.6, 8,
  7.2, 2.4, 2, 1.6, 2.6, 3.4, 4.2, 5.2, 5.8, 5.8,
  6, 5.2, 5, 5.4, 5, 4.2, 4.6, 3.4, 2.2, 0.8,
  0.6, 0.2, 0.8];
const samedan = [
  -2.6, -3, -3.4, -5.6, -8.8, -9, -9.6, -6.4, -2.2, -3.4,
  -1.4, 1.6, 3.4, 4.8, 5.4, 5.2, 5, 4.2, 3, 1.4,
  0.6, -0.2, -0.6, -1.2, -1.4, -0.8, 0, -0.6, -1.4, -1.8,
  -1.4, -0.6, 0.6, 2.4, 2.8, 3.4, 3.6, 2.8, 1.6, 1.2,
  2.6, 3.8, 3.8, 2.8, 1.4, 0.6, 0.8, 1, 0.4, -0.4,
  -0.8, -1.4, 1.6, 3.8, 5.2, 6.4, 7.4, 8.2, 6.4, 4.8,
  4.8, 5, 5.4, 5.4, 4.8, 5, 5.4, 4.8, 4.6, 3.4,
  1.6, 2, 1.2, -1.6, -2, -0.8, 0.4, 1.6, 1.6, 0.8,
  0, 0.2, 0.8, 0.6, -4.6, -5.4, -5, -5.8, -6.2, -7.4,
  -7.2, -4.6, -1.4, 2.2, 5.4, 6.6, 7.2, 7.8, 8, 7.4,
  6.6, 4.2, 0.4, -2, -0.8, 4, 7.4, 8.6, 6.6, 5.2,
  2.8, 2.4, 4, 5.8, 6.8, 7.6, 7, 5.2, 3.2, 2,
  2.6, 4, 5.4, 4.4, 1, -1.2, -0.4, 1, 2.8, 2,
  -2.4, -3.2, -3, -3.8, -5.6, -6.8, -6, -3.8, -1.4, -0.4,
  3.2, 5.2, 7, 8.2, 9, 9.2, 9.2, 8.6, 8, 7.2,
  7, 5.4, 2.4, 0, -0.4, -1, 0.4, 2.4, 4.4, -0.8,
  -5, -3.6, -4.2, 2, 3.2, 2.4, 2.4, 5.8, 7.4, 8.2,
  7.6, 7.4, 7.8, 8, 7.8, 8.2, 8.8, 9.4, 8.6, 7,
  6.4, 2, 0.6, 0, 1.8, 2.6, 3.4, 4.4, 5, 5,
  5.4, 4.6, 4.2, 4.8, 4.4, 3.6, 4, 3, 1.6, 0.2,
  0, -0.4, 0.2];
const seglMaria = [
  -1.8, -2.2, -2.8, -4.8, -8, -8.6, -9, -6, -1.8, -2.8,
  -1, 2, 3.8, 5, 5.4, 5, 4.8, 4, 2.8, 1.2,
  0.4, -0.4, -0.6, -1, -1.2, -0.4, 0.2, -0.4, -1.2, -1.4,
  -1, -0.2, 1, 2.6, 3, 3.4, 3.4, 2.6, 1.6, 1.2,
  2.4, 3.6, 3.6, 2.8, 1.4, 0.8, 1, 1.2, 0.6, -0.2,
  -0.6, -1, 2, 4, 5.2, 6.4, 7.4, 8, 6, 4.6,
  4.6, 5, 5.2, 5.2, 4.8, 5, 5.4, 4.6, 4.4, 3.4,
  1.8, 2.4, 1.4, -1.4, -1.8, -0.6, 0.6, 1.8, 1.6, 1,
  0.2, 0.4, 1, 0.8, -4.4, -5.2, -4.8, -5.6, -6, -7,
  -6.8, -4.2, -1, 2.6, 5.6, 6.6, 7.2, 7.8, 8, 7.4,
  6.8, 4.4, 0.6, -1.6, -0.4, 6.6, 8.6, 9, 7, 5.6,
  3, 2.6, 5.6, 8.6, 9, 9.2, 8, 5.6, 3.4, 2.2,
  2.8, 4.2, 5.6, 4.6, 1.2, -1, -0.2, 1.2, 3, 2.2,
  -2.2, -3, -2.8, -3.6, -5.4, -6.6, -5.8, -3.6, -1.2, -0.2,
  3.4, 5.4, 7.2, 8.4, 9.2, 9.4, 9.4, 8.8, 8.2, 7.4,
  7.2, 5.6, 2.6, 0.2, -0.2, -0.8, 0.6, 2.6, 4.6, -0.6,
  -4.8, -3.4, -4, 2.2, 3.4, 2.6, 2.6, 6, 7.6, 8.4,
  7.8, 7.6, 8, 8.2, 8, 8.4, 9, 9.6, 8.8, 7.2,
  6.6, 2.2, 0.8, 0.2, 2, 2.8, 3.6, 4.6, 5.2, 5.2,
  5.6, 4.8, 4.4, 5, 4.6, 3.8, 4.2, 3.2, 1.8, 0.4,
  0.2, -0.2, 0.4];
const sion = [
  0.2, 0.4, 0.2, -2.4, -5.8, -5.6, -6.4, -2.6, 1.8, 0.6,
  1.4, 3.6, 4.6, 5.4, 5.6, 5.4, 5.8, 4.2, 3.2, 2,
  1.8, 1.2, 1.8, 0.8, 0.4, 1.4, 1.8, 1, 0.6, 0.8,
  1, 1.2, 2.4, 4.2, 3.8, 4.2, 4.4, 3.6, 2.6, 2.2,
  3.4, 4.6, 4.6, 3.4, 2.2, 1.6, 2, 1.8, 1.2, 0.8,
  1.2, 0.8, 3.4, 5.4, 6.6, 7.8, 8.6, 9.4, 5.8, 4.2,
  5, 6, 6.2, 6.6, 6.2, 6.2, 6.6, 5.4, 5, 3.8,
  2.6, 4, 1.8, -1.4, -0.2, 1.4, 2.4, 2.8, 2.6, 2,
  1.4, 1.8, 2.4, 2.8, -4.2, -5, -3.8, -4.4, -4.2, -5.8,
  -4.4, -1.6, 1.6, 4.8, 7.6, 7.6, 8.4, 9, 8.8, 7.6,
  7.8, 3.6, -0.2, -1.6, 1, 4.8, 6.4, 7.6, 6, 4.8,
  2.4, 2.8, 5, 6.8, 6.8, 7.2, 6.2, 4.4, 2.8, 1.8,
  4, 5.8, 6.6, 4.4, 0.6, -1, 1, 2.2, 4.4, 2,
  -2.6, -2.8, -2, -4, -5.8, -6.4, -4.4, -1.8, 0, 1,
  5.2, 7, 9, 10, 10.8, 10.6, 10.4, 9.6, 9, 8.6,
  8.4, 5.4, 2, 0.4, 1.4, -0.2, 1.6, 3.4, 4.8, -1,
  -4.8, -2, -3, 4.4, 5, 3.6, 3.8, 7.8, 9, 10,
  9.4, 9.6, 9.8, 10.2, 10, 10.4, 11.2, 12, 10.8, 8.2,
  7.8, 2.2, 3, 2.8, 4, 5, 6, 7, 7.6, 7.2,
  8, 7.4, 7.4, 7.8, 6.8, 5.6, 6.6, 5, 3.4, 1.8,
  1.8, 1.2, 2];
const stGallen = [
  -0.2, -1.8, 0.2, -5.6, -7.4, -9.4, -7.6, -3.6, 3.6, -1.2,
  2.2, 2.6, 6.4, 4.6, 6.6, 3.8, 6.6, -4.4, 2.8, -1,
  1.6, -1.4, 2, -1.6, 0.4, -0.6, 1.8, -4, 0.4, -1.4,
  1.2, -0.6, 3, -4.6, -4.4, 1.4, 4.6, 1.2, 2.8, 0,
  4.2, 3.4, 5.4, 1.2, 2, -0.8, 2.2, -0.6, 1, -1.8,
  1.6, -1.2, 4.8, 4.6, 8.2, 7, 10.2, 8.4, 5.4, 1.2,
  -2.3, 4.6, 7.2, 5.2, 7.2, 4.4, 7.4, 3.2, -1.8, -1.6,
  1.8, 2.4, 1.2, -5, 0, -0.6, 2.8, 0.4, 2.2, -0.6,
  1.2, -0.8, 2.4, 0.8, -5.8, -8.8, -4.4, -8, -4.8, -9.2,
  -5, -3.6, 2.2, 3.4, 9, 5.6, 9.2, 7.6, 9.4, 5,
  9, 0.4, -1.6, -5.2, 1.2, 3.4, 6.8, 5.8, 5.8, 2,
  1.4, 0, 6, 5.6, 7, 4.4, 6, 1.4, 2.2, -1.2,
  4.8, 4.4, 7.4, 1.6, -1.2, -4.8, 1.2, -0.2, 5.2, -1.2,
  -4.2, -6.2, -2.6, -8, -7.4, -10.2, -4.6, -4, 0.2, -1,
  6, 5.4, 9.6, 8, 11.2, 8.2, 10.2, 6.8, 9, 6.6,
  8.6, 2, 0.8, -3, 1.4, -3.6, 1.8, 0.4, 4, -5.2,
  -6.8, -4.8, -4.2, 3.6, 5.6, 1.4, 4.4, 6.6, 9.6, 8.2,
  9.4, 7.6, 10.2, 8.2, 10.8, 8.8, 12.2, 10.4, 10.8, 5,
  6.8, -2.4, 4, 1, 4, 2.8, 6, 5.2, 8, 4.4,
  8.2, 5.2, 7.8, 5.8, 6.4, 2.6, 6.8, 2, 2.8, -1.4,
  1, -2.2, 1.6];
const santis = [
  -1.2, -3.6, -9.4, -8.2, -7.4, -8.6, -9.8, -6.6, -1, -3.8,
  -2.6, 0.6, 2.8, 4.4, 5, 4.6, 4.4, 3.6, 2.6, 1,
  0, -1, -1.2, -1.6, -1.8, -1.2, -0.4, -0.8, -1.6, -2.2,
  -1.8, -1, 0.2, 2, 2.6, 3, 3.2, 2.4, 1.2, 0.8,
  2, 3.2, 3.4, 2.6, 1, 0.2, 0.2, 0.6, 0.2, -0.8,
  -1.2, -1.6, 1.4, 3.6, 5, 6.2, 7, 7.8, 5.6, 4,
  4.2, 4.8, 5, 5, 4.4, 4.6, 5, 4.4, 4.4, 3.4,
  1.6, 2.4, 0.6, -0.4, -2.2, -1.6, -0.6, 0, -0.4, -1.8,
  -1, -0.6, 0.4, 0.6, -5.8, -6.8, -6, -6.6, -6.8, -8.2,
  -7.6, -4.6, -1.6, 1.8, 5, 6, 6.8, 7.6, 7.8, 7.2,
  6, 3.2, -1.8, -3.8, -2.2, 2, 4.6, 6.2, 5.2, 4,
  2, 1.4, 3.2, 5.4, 6.2, 6.8, 5.6, 3.6, 2, 0.8,
  2.2, 4, 5, 3.6, -0.4, -2.8, -1.4, 0.2, 2.6, 0.6,
  -4.2, -5, -4.6, -6, -7.8, -8.6, -7.2, -4.6, -2.4, -1.2,
  2.8, 4.8, 7, 8.2, 9, 8.4, 5.2, 6.6, 7.4, 6.8,
  6.8, 4.6, 1.2, -1.4, -1.6, -2.6, -0.8, 1.8, 4, -2.6,
  -6.8, -5, -5.4, 1.8, 3, 2, 1.8, 5.4, 7.2, 8.2,
  7.4, 7, 7.4, 7.8, 7.4, 7.8, 8.6, 9.4, 8.8, 6.6,
  6, 0.6, -1, -1, 1.2, 2.4, 3.4, 4.2, 4.8, 4.8,
  5, 4.4, 4, 4.4, 4, 3.2, 3.6, 2.6, 0.4, -1.6,
  -3.5, -2.4, -0.8];
const zurich = [
  -1.1, -0.6, 0.4, -3.1, -8.9, -8.6, -7.6, -2.6, 2.1, 1.1,
  2.1, 4.9, 4.9, 5.6, 6.4, 4.6, 5.1, 3.9, 1.6, 0.4,
  1.6, 1.1, 0.6, -0.6, 0.6, 1.6, 0.9, -0.4, 0.6, 1.4,
  0.1, 0.4, 2.1, 5.9, 4.4, 3.4, 4.6, 3.6, 1.4, 2.6,
  4.1, 5.6, 4.1, 2.4, 1.9, 1.6, 0.6, 0.6, 1.1, -0.4,
  1.6, 0.1, 4.6, 6.6, 7.9, 9.1, 9.6, 10.4, 5.4, 2.4,
  4.1, 6.6, 6.9, 6.1, 5.6, 6.6, 7.1, 4.6, 3.6, 3.6,
  0.9, 4.9, 0.1, -3.9, -1.4, 1.6, 2.6, 1.6, 1.1, 1.9,
  1.1, 0.4, 1.1, 3.1, -7.4, -6.6, -5.9, -7.1, -4.9, -8.1,
  -5.1, -2.6, 0.9, 5.6, 8.6, 6.6, 7.6, 9.6, 8.9, 5.9,
  8.6, 2.6, -2.9, -3.1, 0.9, 5.6, 5.4, 6.6, 5.6, 3.1,
  1.1, 1.1, 5.6, 7.6, 5.4, 6.6, 5.6, 2.6, 0.9, 1.1,
  4.6, 5.4, 6.1, 3.6, -2.6, -2.6, 0.9, 0.9, 4.9, 1.1,
  -4.6, -5.1, -3.1, -6.1, -8.9, -9.4, -4.9, -3.1, -0.1, 0.9,
  5.6, 6.1, 7.9, 9.6, 10.6, 9.1, 8.6, 8.9, 8.6, 7.4,
  7.1, 4.1, 0.6, -2.1, 1.1, -2.6, 0.4, 2.6, 3.6, -3.1,
  -7.1, -3.9, -4.6, 5.6, 4.1, 3.6, 4.1, 7.6, 8.1, 10.1,
  8.9, 9.6, 9.9, 9.1, 10.4, 10.6, 11.4, 12.1, 9.1, 6.9,
  6.6, -0.1, 2.6, 3.1, 3.6, 3.6, 5.6, 6.4, 7.6, 6.6,
  7.6, 6.1, 7.1, 7.9, 4.9, 4.6, 6.6, 3.1, 2.6, 0.9,
  -0.1, -0.6, 1.4];

const seriesValues = [altdorf, badRagaz, basel, bern, chaumont, chateauDOex, colGrandStBernard, davos,
  elm, engelberg, geneve, grimsel, grachen, jungfraujoch, chauxDeFonds, locarno, lugano, luzern,
  meiringen, neuchatel, payerne, sanBernardino, samedan, seglMaria, sion, stGallen, santis, zurich];

const W = 999, H = 630;
const margin = { top: 68, right: 27, bottom: 120, left: 55 };
const plotW = W - margin.left - margin.right;
const plotH = H - margin.top - margin.bottom;

const svg = d3.select("#chart").append("svg")
  .attr("width", W)
  .attr("height", H);

// panel
svg.append("rect")
  .attr("x", 8.5).attr("y", 11.5)
  .attr("width", 979).attr("height", 608.5)
  .attr("rx", 6)
  .attr("fill", "#181b1f")
  .attr("stroke", "#2c2e34");

svg.append("text")
  .attr("x", 21).attr("y", 38)
  .style("font-size", "14.3px")
  .style("font-weight", 500)
  .style("fill", "#ccccdc")
  .text("Air temperature 2 m above ground; deviation of the homogeneous daily maximum (statistically derived) to the norm 9120, All");

// info icon
let info = svg.append("g").attr("transform", "translate(894,32.5)");
info.append("circle").attr("r", 5.6).attr("fill", "none").attr("stroke", "#a9aab3").attr("stroke-width", 1.3);
info.append("line").attr("x1", 0).attr("x2", 0).attr("y1", -0.6).attr("y2", 2.8)
  .attr("stroke", "#a9aab3").attr("stroke-width", 1.4).attr("stroke-linecap", "round");
info.append("circle").attr("cx", 0).attr("cy", -2.8).attr("r", 0.85).attr("fill", "#a9aab3");

const dayAt = i => d3.timeDay.offset(firstDay, i);

let x = d3.scaleTime()
  .domain([firstDay, d3.timeHour.offset(firstDay, 204 * 24 + 14)])
  .range([margin.left, margin.left + plotW]);

let y = d3.scaleLinear()
  .domain([-15.97, 17.01])
  .range([margin.top + plotH, margin.top]);

const xTickDates = xTickLabels.map((s, i) => dayAt(i * 15));

// grid + x axis
let gx = svg.append("g")
  .attr("transform", `translate(0,${margin.top + plotH})`)
  .call(d3.axisBottom(x).tickValues(xTickDates).tickSize(-plotH).tickPadding(9)
    .tickFormat((d, i) => xTickLabels[i]));
gx.select(".domain").remove();
gx.selectAll("line").attr("stroke", "rgba(204,204,220,0.12)");
gx.selectAll("text").style("font-size", "12px").style("fill", "#c4c5ce").style("font-family", "Inter, sans-serif");

// grid + y axis
let gy = svg.append("g")
  .attr("transform", `translate(${margin.left},0)`)
  .call(d3.axisLeft(y).tickValues(yTickValues).tickSize(-plotW).tickPadding(6)
    .tickFormat(d => d.toFixed(1)));
gy.select(".domain").remove();
gy.selectAll("line").attr("stroke", "rgba(204,204,220,0.12)");
gy.selectAll("text").style("font-size", "12px").style("fill", "#c4c5ce").style("font-family", "Inter, sans-serif");

svg.append("clipPath").attr("id", "plotClip")
  .append("rect")
  .attr("x", margin.left).attr("y", margin.top)
  .attr("width", plotW).attr("height", plotH);

const line = d3.line()
  .x((v, i) => x(dayAt(i)))
  .y(v => y(v));

svg.append("g")
  .attr("clip-path", "url(#plotClip)")
  .selectAll("path")
  .data(seriesValues)
  .enter()
  .append("path")
  .attr("d", d => line(d))
  .attr("fill", "none")
  .attr("stroke", (d, i) => colors[i])
  .attr("stroke-width", 1)
  .attr("stroke-linejoin", "round");

// legend, rows as in the panel
const legendRows = [[0, 9], [9, 18], [18, 28]];
legendRows.forEach(([a, b], r) => {
  let row = svg.append("g").attr("transform", `translate(0,${550.5 + r * 24})`);
  let cx = 21;
  for (let i = a; i < b; i++) {
    row.append("rect")
      .attr("x", cx).attr("y", -2)
      .attr("width", 14).attr("height", 4)
      .attr("rx", 2)
      .attr("fill", colors[i]);
    let t = row.append("text")
      .attr("x", cx + 22).attr("y", 4.3)
      .style("font-size", "12px")
      .style("fill", "#ccccdc")
      .text(stations[i]);
    cx += 22 + t.node().getComputedTextLength() + 11;
  }
});
</script>
</body>
</html>
